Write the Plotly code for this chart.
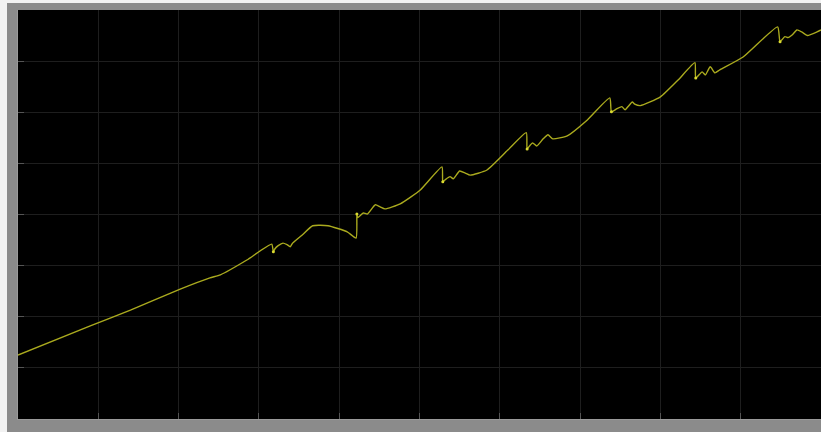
import plotly.graph_objects as go

# time (s) and signal values
t = [0.00, 0.90, 1.40, 2.02, 2.39, 2.52, 2.85, 3.16, 3.18, 3.20, 3.24, 3.30, 3.35, 3.39, 3.42,
     3.54, 3.67, 3.86, 4.10, 4.21, 4.22, 4.23, 4.30, 4.35, 4.45, 4.51, 4.57, 4.76, 5.01,
     5.28, 5.29, 5.32, 5.38, 5.42, 5.50, 5.57, 5.63, 5.84, 6.10,
     6.33, 6.34, 6.38, 6.41, 6.46, 6.54, 6.60, 6.66, 6.84, 7.09,
     7.37, 7.39, 7.46, 7.52, 7.56, 7.65, 7.68, 7.75, 8.00, 8.22,
     8.43, 8.44, 8.52, 8.56, 8.62, 8.68, 8.74, 9.03, 9.46,
     9.49, 9.55, 9.59, 9.64, 9.70, 9.76, 9.83, 9.95, 10.00]
v = [1.25, 1.82, 2.13, 2.54, 2.76, 2.82, 3.11, 3.42, 3.27, 3.33, 3.39, 3.44, 3.41, 3.37, 3.44,
     3.60, 3.78, 3.78, 3.66, 3.54, 4.01, 3.94, 4.03, 4.01, 4.19, 4.15, 4.11, 4.21, 4.48,
     4.93, 4.64, 4.68, 4.74, 4.70, 4.85, 4.81, 4.77, 4.87, 5.26,
     5.60, 5.28, 5.36, 5.40, 5.34, 5.48, 5.56, 5.48, 5.54, 5.85,
     6.28, 6.01, 6.07, 6.11, 6.05, 6.20, 6.16, 6.13, 6.30, 6.63,
     6.97, 6.67, 6.79, 6.73, 6.89, 6.77, 6.83, 7.08, 7.67,
     7.38, 7.48, 7.46, 7.51, 7.61, 7.57, 7.50, 7.57, 7.61]

# switching-transient points (brighter spots)
t_sw = [3.18, 4.22, 5.29, 6.34, 7.39, 8.44, 9.49]
v_sw = [3.27, 4.01, 4.64, 5.28, 6.01, 6.67, 7.38]

x_ticks = [0, 1, 2, 3, 4, 5, 6, 7, 8, 9, 10]
y_ticks = [0, 1, 2, 3, 4, 5, 6, 7, 8]

fig = go.Figure()
fig.add_trace(go.Scatter(x=t, y=v, mode="lines",
                         line=dict(color="#aaaa1e", width=1.4, shape="spline", smoothing=0.5),
                         showlegend=False))
fig.add_trace(go.Scatter(x=t_sw, y=v_sw, mode="markers",
                         marker=dict(color="#dada30", size=3), showlegend=False))

axis_common = dict(showgrid=True, gridcolor="#1e1e1e", gridwidth=1, zeroline=False,
                   showticklabels=False, ticks="inside", ticklen=6, tickcolor="#555555",
                   showline=True, linecolor="#9a9a9a", linewidth=1, mirror=False)

fig.update_layout(
    width=821, height=432,
    margin=dict(l=18, r=0, t=10, b=13),
    paper_bgcolor="#8b8b8b",
    plot_bgcolor="#000000",
    xaxis=dict(range=[0, 10], tickvals=x_ticks, **axis_common),
    yaxis=dict(range=[0, 8], tickvals=y_ticks, **axis_common),
    shapes=[
        dict(type="rect", xref="paper", yref="paper", x0=-18/803, x1=-11/803, y0=-13/409, y1=1+10/409,
             fillcolor="#f2f2f2", line=dict(width=0), layer="below"),
        dict(type="rect", xref="paper", yref="paper", x0=-18/803, x1=1, y0=1+7/409, y1=1+10/409,
             fillcolor="#f2f2f2", line=dict(width=0), layer="below"),
    ],
)

fig.write_html("out.html")
